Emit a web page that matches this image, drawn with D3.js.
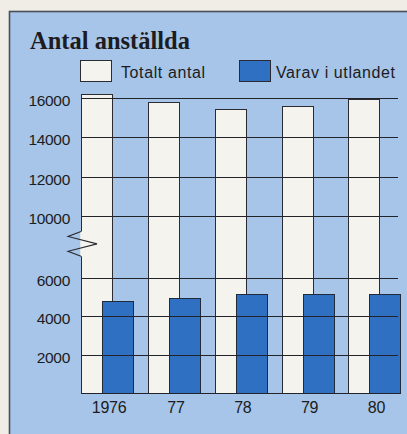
<!DOCTYPE html>
<html>
<head>
<meta charset="utf-8">
<script src="https://cdn.jsdelivr.net/npm/d3@7"></script>
<style>
  body { margin: 0; background: #efede6; }
  svg { display: block; }
</style>
</head>
<body>
<div id="chart"></div>
<script>
// ---------------------- data ----------------------
var years = ["1976", "77", "78", "79", "80"];
var totalt = [16200, 15810, 15420, 15590, 15930];
var utlandet = [4800, 4960, 5150, 5140, 5180];
var yTicks = [2000, 4000, 6000, 10000, 12000, 14000, 16000];

var W = 407, H = 434;
var svg = d3.select("#chart")
     .append("svg")
     .attr("width", W)
     .attr("height", H);

// panel
svg.append("rect")
     .attr("x", 9.5).attr("y", 11.5)
     .attr("width", 500).attr("height", 500)
     .style("fill", "#a6c5e8")
     .style("stroke", "#4a4f58")
     .style("stroke-width", 1.6);

svg.append("text")
     .text("Antal anställda")
     .attr("x", 30).attr("y", 49)
     .style("font-family", "'Liberation Serif', 'DejaVu Serif', serif")
     .style("font-weight", "bold")
     .style("font-size", "24.5px")
     .style("fill", "#1c1c22");

// legend
var legend = [
  { label: "Totalt antal", fill: "#f5f3ee", x: 80, tx: 121 },
  { label: "Varav i utlandet", fill: "#2f70c2", x: 239, tx: 276 }
];
legend.forEach(function (d) {
  svg.append("rect")
     .attr("x", d.x + 0.5).attr("y", 60.5)
     .attr("width", 31).attr("height", 21)
     .style("fill", d.fill)
     .style("stroke", "#2a2a30")
     .style("stroke-width", 1);
  svg.append("text")
     .text(d.label)
     .attr("x", d.tx).attr("y", 78)
     .style("font-family", "'Liberation Sans', Arial, sans-serif")
     .style("font-size", "16px")
     .style("letter-spacing", "0.6px")
     .style("fill", "#1c1c22");
});

// ---------------------- scales ----------------------
var x0 = 81, x1 = 398;
var x = d3.scaleBand().domain(years).range([x0, 400.5]).paddingInner(0.22).paddingOuter(0);
var barW = 31, offset = 21;
// broken axis: 6000..10000 compressed
var y = d3.scaleLinear().domain([0, 6000, 10000, 16000]).range([393, 278, 216, 98]);

// white bars
svg.selectAll("rect.tot")
     .data(totalt)
     .enter()
     .append("rect")
     .attr("class", "tot")
     .attr("x", function (d, i) { return Math.round(x(years[i])) + 0.5; })
     .attr("y", function (d) { return Math.round(y(d)) + 0.5; })
     .attr("width", barW)
     .attr("height", function (d) { return Math.round(y(0)) - Math.round(y(d)); })
     .style("fill", "#f5f3ee")
     .style("stroke", "#2a2a30")
     .style("stroke-width", 1);

// blue bars
svg.selectAll("rect.utl")
     .data(utlandet)
     .enter()
     .append("rect")
     .attr("class", "utl")
     .attr("x", function (d, i) { return Math.round(x(years[i])) + offset + 0.5; })
     .attr("y", function (d) { return Math.round(y(d)) + 0.5; })
     .attr("width", barW)
     .attr("height", function (d) { return Math.round(y(0)) - Math.round(y(d)); })
     .style("fill", "#2f70c2")
     .style("stroke", "#1f2a3a")
     .style("stroke-width", 1);

// gridlines over bars
svg.selectAll("line.grid")
     .data([0].concat(yTicks))
     .enter()
     .append("line")
     .attr("class", "grid")
     .attr("x1", x0).attr("x2", x1)
     .attr("y1", function (d) { return Math.round(y(d)) + 0.5; })
     .attr("y2", function (d) { return Math.round(y(d)) + 0.5; })
     .style("stroke", "#23232a")
     .style("stroke-width", 1.1);

// tick labels
svg.selectAll("text.ytick")
     .data(yTicks)
     .enter()
     .append("text")
     .attr("class", "ytick")
     .text(function (d) { return d; })
     .attr("x", 70)
     .attr("y", function (d) { return y(d) + 8; })
     .attr("text-anchor", "end")
     .style("font-family", "'Liberation Sans', Arial, sans-serif")
     .style("font-size", "15.5px")
     .style("letter-spacing", "-0.3px")
     .style("fill", "#1c1c22");

// year labels
svg.selectAll("text.xtick")
     .data(years)
     .enter()
     .append("text")
     .attr("class", "xtick")
     .text(function (d) { return d; })
     .attr("x", function (d) { return x(d) + x.bandwidth() / 2 + 2; })
     .attr("y", 413)
     .attr("text-anchor", "middle")
     .style("font-family", "'Liberation Sans', Arial, sans-serif")
     .style("font-size", "16px")
     .style("letter-spacing", "-0.3px")
     .style("fill", "#1c1c22");

// axis break
var bTop = 9000, bBot = 7400;
svg.append("line")
     .attr("x1", x0 + 0.5).attr("x2", x0 + 0.5)
     .attr("y1", y(bTop)).attr("y2", y(bBot))
     .style("stroke", "#f5f3ee")
     .style("stroke-width", 2.5);
var bMid = (y(bTop) + y(bBot)) / 2;
svg.append("path")
     .attr("d", d3.line()([
       [x0, y(bTop)], [x0 - 13, y(bTop) + 5], [x0 + 16, bMid],
       [x0 - 13, y(bBot) - 5], [x0, y(bBot)]
     ]))
     .style("fill", "none")
     .style("stroke", "#2a2a30")
     .style("stroke-width", 1.1);
</script>
</body>
</html>
